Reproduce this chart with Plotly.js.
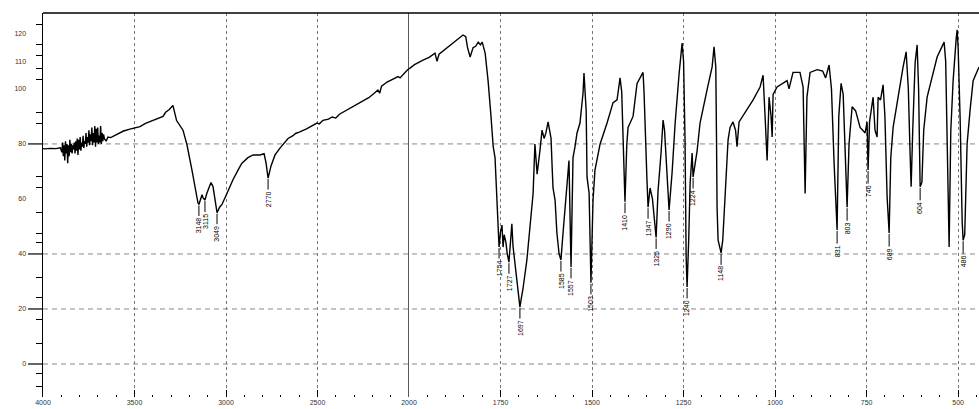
<!DOCTYPE html>
<html><head><meta charset="utf-8">
<script src="https://cdn.plot.ly/plotly-3.0.1.min.js"></script>
<style>html,body{margin:0;padding:0;background:#fff}#chart{width:979px;height:409px}</style>
</head><body><div id="chart"></div>
<script>
// Left panel: 4000-2000 cm-1
const leftWn = [4000,3990,3960,3930,3905,3897,3893,3889,3885,3881,3877,3873,3869,3865,3861,3857,3853,3849,3845,3841,3837,3833,3829,3825,3821,3817,3813,3809,3805,3801,3797,3793,3789,3785,3781,3777,3773,3769,3765,3761,3757,3753,3749,3745,3741,3737,3733,3729,3725,3721,3717,3713,3709,3705,3701,3697,3693,3689,3685,3681,3677,3673,3669,3665,3655,3645,3630,3600,3560,3520,3486,3470,3440,3400,3370,3344,3330,3310,3290,3270,3235,3213,3186,3165,3153,3148,3138,3131,3126,3115,3105,3090,3082,3071,3060,3049,3035,3022,2995,2962,2930,2913,2880,2852,2814,2792,2781,2770,2754,2732,2705,2661,2634,2620,2600,2560,2503,2490,2470,2440,2420,2400,2380,2339,2300,2260,2220,2190,2170,2160,2150,2120,2090,2060,2049,2030,2010,2000];
const leftT = [78.3,78.2,78.4,78.3,78.6,77,80.5,75.5,79.5,74,81,76.5,80,73,79.5,75.5,81.5,77,80,76.5,79.5,78,80.5,76.5,81,77.5,82,76,81.5,78,82.5,77.5,80.5,79,83,78.5,81,80,84,79,82.5,80.5,85,79.5,83.5,81,86,79.5,84,80.5,86.5,79,85.5,80.5,86,80,83,80.5,86.5,80,84,81,83.5,82,81,82.5,82.3,83.3,84.7,85.5,86,86.3,87.5,88.5,89.3,90,91.5,92.5,94,88.5,85,79.6,70.5,62.5,58.5,58,60.5,61.5,60.5,59.6,62,64.5,66,64.5,59.5,55,57,58,62,67,71,73,75,76,76,76.5,73,67.6,72,76,78.5,82,83,83.8,84.3,85.5,87.6,87.3,88.6,89,89.8,89.4,90.8,92.4,93.7,95.2,96.8,98.4,99.6,98.5,101,102.5,103.5,104.5,104,105.5,106.8,107.3];
// Right panel: 2000-443 cm-1
const rightWn = [2000,1985,1961.7,1945,1929,1923.5,1918,1900,1880,1860,1852.5,1845,1840,1833,1825,1818,1811,1805,1800,1792,1784,1776,1770,1765,1760,1757,1754,1750,1746,1743,1740,1735,1732,1727,1722,1719,1716,1710,1705,1699.5,1697,1693,1689,1678,1669,1661,1656,1650,1642,1636.6,1631,1626,1620,1612,1609,1606.6,1601,1596,1590,1585,1579,1571,1565.6,1563,1557.4,1552,1546.5,1541,1533,1524.6,1522,1516,1513.7,1508,1503,1497.3,1492,1478,1459,1442.6,1431.7,1423.5,1419,1415.3,1410,1405,1401.6,1388,1377,1360.7,1358,1350,1347,1341.5,1335,1325,1319.7,1311.5,1306,1302,1295,1289.6,1281.4,1273,1262,1254,1250,1246,1243,1240.4,1236,1232,1226.6,1224,1213,1205,1186,1172,1166.7,1162,1160,1158.5,1155.7,1147.5,1143,1136.7,1128.4,1123,1115,1108,1104,1098.4,1076.5,1060,1041,1032.8,1027.3,1021.8,1016.4,1011,1008,1005.5,994.6,967.3,962,951,932,923.5,918,913,904.4,885,870,862,852.5,846,838.8,830.6,826,819.7,814,810,803.3,798,789.6,780,767.8,754,748.7,746,742,732.3,727,721.4,718.6,712,705,700,694,688.5,684,677.6,658.5,650.3,642,636,632,628.4,624,617.5,612,608,603.8,599,594,584.7,557.4,538.3,534,530,524.6,520,513.7,505.5,502.7,500,494.5,489,486.4,482,475.5,467.3,459,443];
const rightT = [107.3,108.8,110.5,111.5,113,110,112.6,114.5,116.5,118.5,119.6,119,115,111.6,115,115.5,117,116,117,113,103,90,79,75,62,51,42.5,48,50.5,42.5,47,44,40.4,37,45,51,43,36,31.6,24.4,20.7,24,27,37.8,52,62,80,69,78,85,82,84,88,82,71.6,64,59.6,47.6,40,37.8,48,62,70,74,35.3,75,79,84,87.6,98.5,105.8,92,68,62,29.5,59.6,70.5,80,87.6,95,96,104,99,81.5,59,80,86,90,102,106,99,67,57,64,60,46,63,76.7,88.7,85,69.5,56,69.5,87.6,105.8,116.7,110,81.5,39,28,45,66,76.7,68,77.5,87.6,99.6,108,115.3,108,82,57,45,40.4,45,63,81.5,86,88,85,79,88,92.4,96,100.7,105,90,74,97,90,82.5,98,100.7,103,100,106,106,100.7,62,97,106,107,106.5,104,108.7,100,73,48.7,90,102,98,80,57,80,93.5,92,86,84,88,70.5,88,97,85,82.5,97,96,101.5,90,60.7,47.6,75,86,102,108,113.5,100,80,64.4,85,109.5,116,100,64.4,66,85,97,111.6,117,110,85,42.5,85,103,118,121.5,115,89,52,45,47,80,92.4,103,108];
// Peak labels
const peakWn = [3148,3115,3049,2770,1754,1727,1697,1585,1557.4,1503,1410,1347,1325,1289.6,1240.4,1224,1147.5,830.6,803.3,746,688.5,603.8,486.4];
const peakT = [58,59.6,55,67.6,42.5,37,20.7,37.8,35.3,29.5,59,57,46,56,28,68,40.4,48.7,57,70.5,47.6,64.4,45];
const peakText = ["3148","3115","3049","2770","1754","1727","1697","1585","1557","1503","1410","1347","1325","1290","1240","1224","1148","831","803","746","689","604","486"];
// Axis ticks
const xLeftTicks = [4000,3500,3000,2500,2000];
const xRightTicks = [1750,1500,1250,1000,750,500];
const yLabelVals = [0,20,40,60,80,100,110,120];
const yLabelText = ["0","20","40","60","80","100","110","120"];
const yMinorVals = [123.6,116,112,107.6,103.6,91.6,87.6,68,64,55,47.6,44,31.6,24,16,7.6,-3.6,-8];
const yGridVals = [0,20,40,80];

const plotW = 979 - 43;
const split = (409 - 43) / plotW;
const tickFont = {family: 'Liberation Sans, Arial, sans-serif', size: 7, color: '#333'};

const traces = [
  {x: leftWn, y: leftT, xaxis: 'x', yaxis: 'y', type: 'scatter', mode: 'lines',
   line: {color: '#000', width: 1.4}, hoverinfo: 'skip'},
  {x: rightWn, y: rightT, xaxis: 'x2', yaxis: 'y', type: 'scatter', mode: 'lines',
   line: {color: '#000', width: 1.4}, hoverinfo: 'skip'}
];

const shapes = [];
yGridVals.forEach(v => {
  shapes.push({type: 'line', xref: 'paper', yref: 'y', x0: 0, x1: 1, y0: v, y1: v,
    line: {color: '#888', width: 1, dash: '5px,4px'}, layer: 'below'});
  shapes.push({type: 'line', xref: 'paper', yref: 'y', x0: -15 / plotW, x1: 0, y0: v, y1: v,
    line: {color: '#000', width: 1.2}});
});
shapes.push({type: 'line', xref: 'x', yref: 'paper', x0: 2000, x1: 2000, y0: 0, y1: 1,
  line: {color: '#000', width: 1.3}});
shapes.push({type: 'line', xref: 'paper', yref: 'paper', x0: 0, x1: 1, y0: 1, y1: 1,
  line: {color: '#000', width: 1.5}});

const annotations = peakWn.map((w, i) => ({
  x: w, y: peakT[i], xref: w > 2000 ? 'x' : 'x2', yref: 'y',
  text: peakText[i], textangle: -90, showarrow: true, arrowhead: 0, arrowwidth: 1,
  arrowcolor: '#000', ax: 0, ay: 21, standoff: 1,
  font: {family: 'Liberation Sans, Arial, sans-serif', size: 7, color: '#000'}
}));

const xCommon = {
  showgrid: true, griddash: 'dot', gridcolor: '#777', gridwidth: 1,
  zeroline: false, showline: false, ticks: 'inside', ticklen: 7, tickcolor: '#000',
  tickmode: 'array', tickfont: tickFont, anchor: 'y', fixedrange: true
};

const layout = {
  width: 979, height: 409,
  margin: {l: 43, r: 0, t: 13, b: 12},
  paper_bgcolor: '#fff', plot_bgcolor: '#fff',
  showlegend: false,
  xaxis: Object.assign({}, xCommon, {
    domain: [0, split], range: [4000, 2000], tickvals: xLeftTicks,
    minor: {tickmode: 'linear', tick0: 4000, dtick: 100, ticks: 'inside', ticklen: 2, tickcolor: '#000', showgrid: false}
  }),
  xaxis2: Object.assign({}, xCommon, {
    domain: [split, 1], range: [2000, 443], tickvals: xRightTicks,
    minor: {tickmode: 'linear', tick0: 2000, dtick: 50, ticks: 'inside', ticklen: 2, tickcolor: '#000', showgrid: false}
  }),
  yaxis: {
    range: [-12, 127.6], showgrid: false, zeroline: false, showline: true,
    linecolor: '#000', linewidth: 1.5, ticks: '', tickmode: 'array',
    tickvals: yLabelVals, ticktext: yLabelText, tickfont: tickFont,
    ticklabelstandoff: 14, fixedrange: true,
    minor: {tickmode: 'array', tickvals: yMinorVals, ticks: 'outside', ticklen: 6, tickcolor: '#000', showgrid: false}
  },
  shapes: shapes,
  annotations: annotations
};

Plotly.newPlot('chart', traces, layout, {staticPlot: true, displayModeBar: false});
</script>
</body></html>
